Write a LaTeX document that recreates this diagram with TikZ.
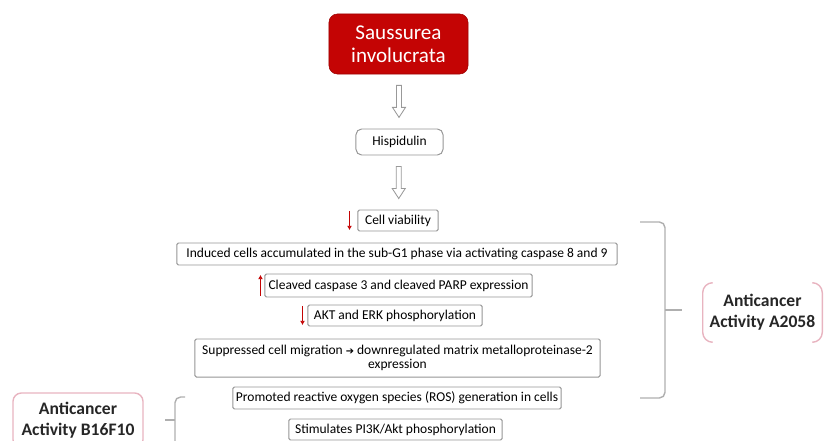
\documentclass[tikz,border=0pt]{standalone}
\usepackage{fontspec}
\setmainfont{Carlito}
\newfontfamily\symfont{DejaVu Sans}
\usetikzlibrary{arrows.meta}
\definecolor{sired}{RGB}{196,4,4}
\definecolor{boxgray}{RGB}{150,150,150}
\definecolor{bracegray}{RGB}{175,175,175}
\definecolor{labelpink}{RGB}{232,180,192}

\begin{document}
\begin{tikzpicture}[x=0.025cm, y=-0.025cm, >=Latex,
  fx/.style={draw=boxgray, line width=0.7pt, fill=white, rounded corners=1pt, inner sep=0pt, align=center, font=\fontsize{9.6}{10.5}\selectfont},
  plant/.style={fill=sired, draw=sired!80!black, rounded corners=6pt, text=white, align=center, inner sep=0pt, font=\fontsize{15}{16.5}\selectfont},
  cpd/.style={fx, rounded corners=4pt},
  activity/.style={align=center, inner sep=0pt, text=black!85, font=\fontsize{12.5}{15}\selectfont\bfseries},
  brace/.style={draw=bracegray, line width=1pt, rounded corners=4pt},
  paren/.style={draw=labelpink, line width=1pt, rounded corners=0.25cm},
  decr/.style={->, draw=sired, line width=0.7pt, shorten >=1pt, shorten <=1pt, >={Latex[length=3pt,width=3.5pt]}},
  incr/.style={<-, draw=sired, line width=0.7pt, shorten >=1pt, shorten <=1pt, >={Latex[length=3pt,width=3.5pt]}},
  hollow/.pic={\draw[draw=black!40, fill=white, line width=0.6pt, line join=miter] (-2.5,-16) -- (2.5,-16) -- (2.5,6) -- (6.5,6) -- (0,16) -- (-6.5,6) -- (-2.5,6) -- cycle;}
]
\useasboundingbox (0,0) rectangle (825,441);
\clip (0,0) rectangle (825,441);

\node[plant, minimum width=3.475cm, minimum height=1.5cm] (sau) at (398.5,44) {Saussurea\\involucrata};
\node[cpd, minimum width=2.175cm, minimum height=0.65cm] (his) at (399.5,142) {Hispidulin};
\node[fx, minimum width=2.0cm, minimum height=0.525cm] (cv) at (398,220.5) {Cell viability};
\node[fx, minimum width=11.0cm, minimum height=0.55cm] (ind) at (397,254) {Induced cells accumulated in the sub-G1 phase via activating caspase 8 and 9};
\node[fx, minimum width=6.675cm, minimum height=0.575cm] (clv) at (398.5,285.5) {Cleaved caspase 3 and cleaved PARP expression};
\node[fx, minimum width=4.35cm, minimum height=0.525cm] (akt) at (395,315.5) {AKT and ERK phosphorylation};
\node[fx, minimum width=10.125cm, minimum height=0.95cm] (sup) at (397.5,358) {Suppressed cell migration {\symfont\fontsize{7}{8}\selectfont ➔} downregulated matrix metalloproteinase-2\\expression};
\node[fx, minimum width=8.2cm, minimum height=0.55cm] (ros) at (397,398) {Promoted reactive oxygen species (ROS) generation in cells};
\node[fx, minimum width=5.325cm, minimum height=0.525cm] (pik) at (395.5,429.5) {Stimulates PI3K/Akt phosphorylation};

\path (sau.south) -- (his.north) pic[pos=0.5] {hollow};
\path (his.south) -- (cv.north) pic[pos=0.5] {hollow};

\draw[decr] ([xshift=-0.2cm]cv.north west) -- ([xshift=-0.2cm]cv.south west);
\draw[incr] ([xshift=-0.1cm]clv.north west) -- ([xshift=-0.1cm]clv.south west);
\draw[decr] ([xshift=-0.125cm]akt.north west) -- ([xshift=-0.125cm]akt.south west);

\node[activity, minimum width=2.975cm, minimum height=1.475cm] (aa) at (762.5,312.5) {Anticancer\\Activity A2058};
\draw[paren] ([xshift=0.25cm]aa.north west) -- (aa.north west) -- (aa.south west) -- ([xshift=0.25cm]aa.south west);
\draw[paren] ([xshift=-0.25cm]aa.north east) -- (aa.north east) -- (aa.south east) -- ([xshift=-0.25cm]aa.south east);
\node[activity, draw=labelpink, line width=1pt, rounded corners=6pt, minimum width=3.25cm, minimum height=1.375cm] (ab) at (78,420.5) {Anticancer\\Activity B16F10};

\coordinate (rb) at (665,310);
\draw[brace] (640,222) -- (665,222) -- (665,398) -- (640,398);
\draw[brace, rounded corners=0pt] (rb) -- ++(17,0);
\coordinate (lb) at (175,420);
\draw[brace] (185,397) -- (175,397) -- (175,445);
\draw[brace, rounded corners=0pt] (lb) -- ++(-10,0);
\end{tikzpicture}
\end{document}
